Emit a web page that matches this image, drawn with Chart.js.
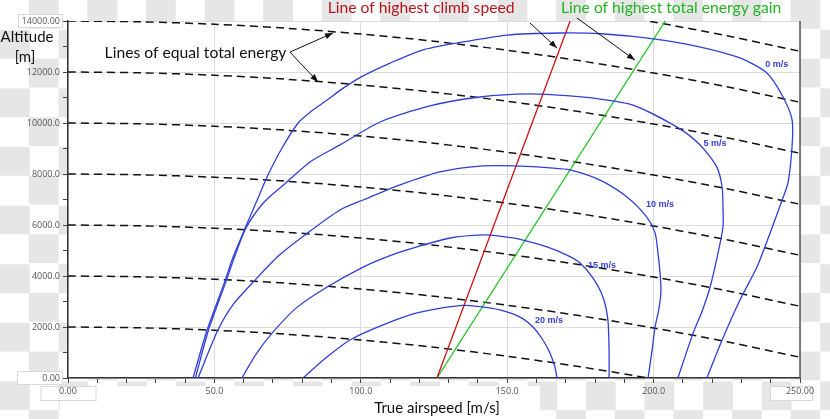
<!DOCTYPE html>
<html><head><meta charset="utf-8">
<script src="https://cdn.jsdelivr.net/npm/chart.js@4/dist/chart.umd.min.js"></script>
<style>
html,body{margin:0;padding:0;}
body{width:830px;height:419px;overflow:hidden;background-color:#fff;
 background-image:repeating-conic-gradient(#e6e6e6 0 25%, #ffffff 0 50%);background-size:58.6px 58.6px;}
#wrap{position:relative;width:830px;height:419px;}
</style></head><body><div id="wrap"><canvas id="c" width="830" height="419"></canvas></div>
<script>
// ---------- data ----------
const xTickValues = [0, 50, 100, 150, 200, 250];
const xTickLabels = ['0.00', '50.0', '100.0', '150.0', '200.0', '250.00'];
const yTickValues = [0, 2000, 4000, 6000, 8000, 10000, 12000, 14000];
const yTickLabels = ['0.00', '2000.0', '4000.0', '6000.0', '8000.0', '10000.0', '12000.0', '14000.00'];

// rate-of-climb contours (true airspeed m/s, altitude m)
const roc0V = [42.7, 47.5, 53.6, 56, 60.5, 64.5, 68.3, 73, 78.6, 83, 88.5, 93, 100, 110, 121, 133, 150, 168, 182, 200, 216, 229.5, 238.7, 244.2, 247.3, 247.3, 245.9, 243.9, 239.8, 235.3, 229.5, 223.4, 218.2];
const roc0H = [0, 1880, 3800, 4630, 5880, 6950, 7960, 9000, 10000, 10450, 10900, 11290, 11800, 12350, 12860, 13140, 13450, 13530, 13500, 13300, 12980, 12550, 11960, 11020, 10120, 9100, 7650, 6980, 5690, 4350, 3060, 1490, 0];
const roc5V = [43.5, 48, 54, 56.5, 60.8, 67, 74.8, 83, 92.9, 106.6, 123.6, 140.7, 157.8, 171.4, 181.7, 193, 208, 215.8, 221.6, 223.4, 223.7, 223.7, 222, 219.3, 216.5, 213.5, 208.3];
const roc5H = [0, 1880, 3800, 4630, 5880, 6900, 7690, 8500, 9140, 10040, 10670, 11020, 11140, 11060, 10940, 10700, 9840, 9150, 8270, 7490, 6710, 5920, 4900, 3570, 2600, 1760, 0];
const roc10V = [44.4, 51.2, 56.5, 63.9, 72, 80.9, 92.9, 100.8, 113.4, 127, 140.7, 154.4, 164.6, 171.4, 181.7, 190.9, 197.7, 200.5, 201.5, 202.2, 202.5, 201.8, 200.5, 199.5, 198.1];
const roc10H = [0, 1880, 2900, 3840, 4800, 5610, 6590, 6980, 7570, 8080, 8310, 8310, 8240, 8160, 7760, 7100, 6310, 5690, 4900, 4120, 3400, 2700, 2000, 1100, 0];
const roc15V = [59.4, 64, 69.7, 78, 88.5, 100.8, 110, 119.2, 130.5, 141.7, 147.5, 155.4, 163.6, 170.4, 174.9, 179.3, 182.7, 184.4, 184.8, 184.8];
const roc15H = [0, 900, 1760, 2750, 3570, 4350, 4800, 5140, 5490, 5610, 5560, 5410, 5140, 4820, 4510, 3920, 3180, 2270, 980, 0];
const roc20V = [80.3, 88, 96.3, 107.6, 119.2, 133.9, 140.7, 147.5, 154.4, 158.8, 162.2, 164.6, 166.3, 167];
const roc20H = [0, 780, 1490, 2080, 2550, 2840, 2800, 2670, 2390, 2000, 1490, 980, 430, 0];
const rocLabels = ['0 m/s', '5 m/s', '10 m/s', '15 m/s', '20 m/s'];
const rocLabelV = [242.1, 221.0, 202.2, 182.4, 164.3];
const rocLabelH = [12310, 9180, 6820, 4430, 2270];

// lines of equal total energy
const energyV = [0, 25, 50, 75, 100, 125, 150, 175, 200, 225, 250];
const energy2000 = [2000, 1968, 1873, 1713, 1490, 1204, 853, 439, -39, -580, -1186];
const energy4000 = [4000, 3968, 3873, 3713, 3490, 3204, 2853, 2439, 1961, 1420, 814];
const energy6000 = [6000, 5968, 5873, 5713, 5490, 5204, 4853, 4439, 3961, 3420, 2814];
const energy8000 = [8000, 7968, 7873, 7713, 7490, 7204, 6853, 6439, 5961, 5420, 4814];
const energy10000 = [10000, 9968, 9873, 9713, 9490, 9204, 8853, 8439, 7961, 7420, 6814];
const energy12000 = [12000, 11968, 11873, 11713, 11490, 11204, 10853, 10439, 9961, 9420, 8814];
const energy14000 = [14000, 13968, 13873, 13713, 13490, 13204, 12853, 12439, 11961, 11420, 10814];
const energy16000 = [16000, 15968, 15873, 15713, 15490, 15204, 14853, 14439, 13961, 13420, 12814];

// highest climb speed / highest energy gain lines
const climbLineV = [126, 171.5];
const climbLineH = [0, 14000];
const gainLineV = [126, 204];
const gainLineH = [0, 14000];

// ---------- build ----------
const pts = (vs, hs) => vs.map((v, i) => ({x: v, y: hs[i]}));
const BLUE = '#2f3fd6';
const blueDs = (vs, hs) => ({data: pts(vs, hs), borderColor: BLUE, borderWidth: 1.3, pointRadius: 0, tension: 0.25, fill: false});
const dashDs = (hs) => ({data: pts(energyV, hs), borderColor: '#111', borderWidth: 1.5, borderDash: [8, 5], pointRadius: 0, tension: 0.3, fill: false});

const datasets = [
  blueDs(roc0V, roc0H), blueDs(roc5V, roc5H), blueDs(roc10V, roc10H), blueDs(roc15V, roc15H), blueDs(roc20V, roc20H),
  {data: pts(climbLineV, climbLineH), borderColor: '#cc1111', borderWidth: 1.3, pointRadius: 0},
  {data: pts(gainLineV, gainLineH), borderColor: '#22c322', borderWidth: 1.3, pointRadius: 0},
  dashDs(energy2000), dashDs(energy4000), dashDs(energy6000), dashDs(energy8000),
  dashDs(energy10000), dashDs(energy12000), dashDs(energy14000), dashDs(energy16000)
];

function arrow(ctx, x1, y1, x2, y2) {
  ctx.beginPath(); ctx.moveTo(x1, y1); ctx.lineTo(x2, y2); ctx.stroke();
  const a = Math.atan2(y2 - y1, x2 - x1), L = 8, W = 3;
  ctx.beginPath();
  ctx.moveTo(x2, y2);
  ctx.lineTo(x2 - L * Math.cos(a) + W * Math.sin(a), y2 - L * Math.sin(a) - W * Math.cos(a));
  ctx.lineTo(x2 - L * Math.cos(a) - W * Math.sin(a), y2 - L * Math.sin(a) + W * Math.cos(a));
  ctx.closePath(); ctx.fill();
}

const decor = {
  id: 'decor',
  beforeDraw(chart) {
    const {ctx, chartArea: a, scales: {x, y}} = chart;
    ctx.save();
    ctx.fillStyle = '#fff';
    ctx.fillRect(a.left, a.top, a.right - a.left, a.bottom - a.top);
    // white band behind x title
    ctx.fillRect(a.left - 8, a.bottom + 8, 480, 419 - a.bottom - 8);
    // boxed tick labels
    ctx.strokeStyle = '#d8d8d8'; ctx.lineWidth = 1;
    const yb = (val, w) => { const py = y.getPixelForValue(val); ctx.fillRect(a.left - 6 - w, py - 7, w, 14); ctx.strokeRect(a.left - 6 - w + 0.5, py - 6.5, w, 13); };
    yb(14000, 44); yb(0, 45);
    const xb = (val, w, dx) => { const px = x.getPixelForValue(val) + dx; ctx.fillRect(px - w / 2, a.bottom + 8, w, 15); ctx.strokeRect(px - w / 2 + 0.5, a.bottom + 8.5, w, 14); };
    xb(0, 55, 0); xb(250, 42, -9);
    ctx.restore();
  },
  afterDraw(chart) {
    const {ctx, chartArea: a, scales: {x, y}} = chart;
    ctx.save();
    // right border
    ctx.strokeStyle = '#555'; ctx.lineWidth = 1.5;
    ctx.beginPath(); ctx.moveTo(a.right, a.top); ctx.lineTo(a.right, a.bottom); ctx.stroke();
    // contour labels
    ctx.fillStyle = '#3340d8'; ctx.font = 'bold 9px "Liberation Sans", Arial, sans-serif';
    ctx.textAlign = 'center'; ctx.textBaseline = 'middle';
    rocLabels.forEach((t, i) => ctx.fillText(t, x.getPixelForValue(rocLabelV[i]), y.getPixelForValue(rocLabelH[i])));
    // axis titles
    ctx.fillStyle = '#111'; ctx.font = '15px Lato, sans-serif';
    ctx.fillText('Altitude', 27, 37);
    ctx.fillText('[m]', 25, 57);
    ctx.fillText('True airspeed [m/s]', (a.left + a.right) / 2 + 3, 408);
    // annotations
    ctx.font = '15.7px Lato, sans-serif';
    ctx.textAlign = 'left';
    ctx.fillText('Lines of equal total energy', x.getPixelForValue(12.5), y.getPixelForValue(12750));
    ctx.textAlign = 'center';
    ctx.fillStyle = '#b8141c';
    ctx.fillText('Line of highest climb speed', x.getPixelForValue(120.6), 8);
    ctx.fillStyle = '#22b422';
    ctx.fillText('Line of highest total energy gain', x.getPixelForValue(206), 8);
    // arrows
    ctx.strokeStyle = '#111'; ctx.fillStyle = '#111'; ctx.lineWidth = 1;
    const P = (v, h) => [x.getPixelForValue(v), y.getPixelForValue(h)];
    const s = P(75.8, 12780);
    arrow(ctx, s[0], s[1], ...P(90.5, 13530));
    arrow(ctx, s[0], s[1], ...P(85.4, 11610));
    arrow(ctx, ...P(157.8, 13920), ...P(167, 12940));
    arrow(ctx, ...P(173.8, 14120), ...P(193.6, 12470));
    ctx.restore();
  }
};

new Chart(document.getElementById('c'), {
  type: 'line',
  data: {datasets},
  options: {
    responsive: false, animation: false, devicePixelRatio: 1,
    layout: {padding: {left: 0, right: 30, top: 21, bottom: 0}},
    plugins: {legend: {display: false}, tooltip: {enabled: false}},
    scales: {
      x: {
        type: 'linear', min: 0, max: 250,
        afterFit: s => { s.height = 41; },
        ticks: {stepSize: 10, autoSkip: false, maxRotation: 0, padding: 3, color: '#555',
          font: {family: '"Open Sans", sans-serif', size: 9},
          callback: v => { const i = xTickValues.indexOf(v); return i >= 0 ? xTickLabels[i] : ''; }},
        grid: {color: c => (c.tick && c.tick.value % 50 === 0) ? '#dcdcdc' : 'rgba(0,0,0,0)', tickColor: '#444', tickLength: 5, lineWidth: 1},
        border: {color: '#333', width: 1.5}
      },
      y: {
        type: 'linear', min: 0, max: 14000,
        afterFit: s => { s.width = 68; },
        ticks: {stepSize: 1000, autoSkip: false, padding: 3, color: '#555',
          font: {family: '"Open Sans", sans-serif', size: 9},
          callback: v => { const i = yTickValues.indexOf(v); return i >= 0 ? yTickLabels[i] : ''; }},
        grid: {color: c => (c.tick && c.tick.value % 2000 === 0) ? '#dcdcdc' : 'rgba(0,0,0,0)', tickColor: '#444', tickLength: 5, lineWidth: 1},
        border: {color: '#333', width: 1.5}
      }
    }
  },
  plugins: [decor]
});
</script></body></html>
